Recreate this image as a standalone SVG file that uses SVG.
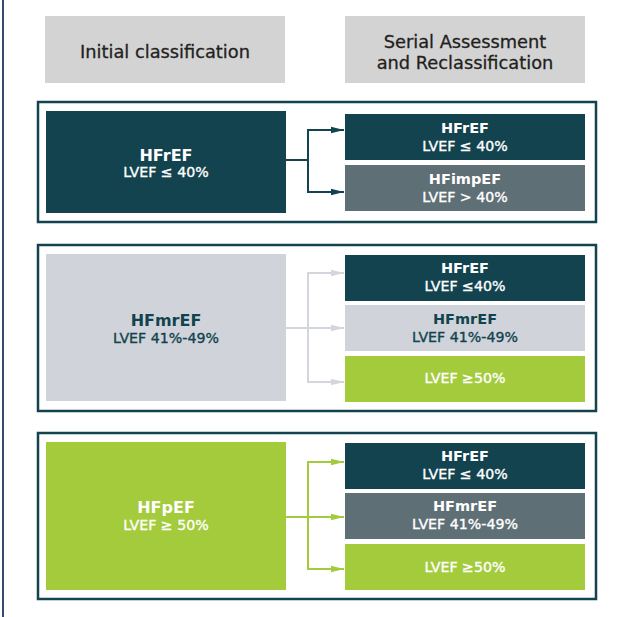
<svg xmlns="http://www.w3.org/2000/svg" width="626" height="617" viewBox="0 0 626 617">
<style>
text{font-family:"DejaVu Sans","Liberation Sans",sans-serif;text-anchor:middle}
.hdr{fill:#d3d3d4}
.hdrt{font-size:17.8px;fill:#231f20;stroke:#231f20;stroke-width:0.3}
.frame{fill:#fff;stroke:#12434f;stroke-width:2.5}
.dark{fill:#12434f}
.slate{fill:#5f6f76}
.light{fill:#d0d3d9}
.green{fill:#a3cb3c}
.b{font-weight:bold;font-size:14.5px}
.r{font-size:14.2px;stroke-width:0.35}
.bb{font-weight:bold;font-size:16px}
.w{fill:#fff;stroke:#fff}
.t{fill:#12434f;stroke:#12434f}
.b.w,.b.t,.bb.w,.bb.t{stroke:none}
.c1{fill:none;stroke:#12434f;stroke-width:2}
.c2{fill:none;stroke:#d3d6dc;stroke-width:2}
.c3{fill:none;stroke:#a3cb3c;stroke-width:2}
</style>
<defs>
<marker id="a1" markerUnits="userSpaceOnUse" markerWidth="13" markerHeight="8" refX="13" refY="4" orient="auto"><path d="M0,0.7 L13,4 L0,7.3 z" fill="#12434f"/></marker>
<marker id="a2" markerUnits="userSpaceOnUse" markerWidth="13" markerHeight="8" refX="13" refY="4" orient="auto"><path d="M0,0.7 L13,4 L0,7.3 z" fill="#d3d6dc"/></marker>
<marker id="a3" markerUnits="userSpaceOnUse" markerWidth="13" markerHeight="8" refX="13" refY="4" orient="auto"><path d="M0,0.7 L13,4 L0,7.3 z" fill="#a3cb3c"/></marker>
</defs>
<line x1="3" y1="0" x2="3" y2="617" stroke="#37496b" stroke-width="2"/>
<g id="header-initial">
<rect class="hdr" x="45" y="16" width="240" height="67"/>
<text class="hdrt" x="165" y="57.5">Initial classification</text>
</g>
<g id="header-serial">
<rect class="hdr" x="345" y="16" width="240" height="67"/>
<text class="hdrt" x="465" y="47.5">Serial Assessment</text>
<text class="hdrt" x="465" y="68.5">and Reclassification</text>
</g>
<g id="frames">
<rect class="frame" x="38" y="102" width="558" height="120"/>
<rect class="frame" x="38" y="245" width="558" height="166"/>
<rect class="frame" x="38" y="433" width="558" height="166"/>
</g>
<g id="connectors">
<path class="c1" d="M286,160 H308"/>
<path class="c1" d="M308,130 V192"/>
<path class="c1" d="M307,130 H344" marker-end="url(#a1)"/>
<path class="c1" d="M307,192 H344" marker-end="url(#a1)"/>
<path class="c2" d="M286,328 H308"/>
<path class="c2" d="M308,273 V382"/>
<path class="c2" d="M307,273 H344" marker-end="url(#a2)"/>
<path class="c2" d="M307,328 H344" marker-end="url(#a2)"/>
<path class="c2" d="M307,382 H344" marker-end="url(#a2)"/>
<path class="c3" d="M286,517 H308"/>
<path class="c3" d="M308,462 V569"/>
<path class="c3" d="M307,462 H344" marker-end="url(#a3)"/>
<path class="c3" d="M307,517 H344" marker-end="url(#a3)"/>
<path class="c3" d="M307,569 H344" marker-end="url(#a3)"/>
</g>
<g id="initial-hfref">
<rect class="dark" x="46" y="111" width="240" height="102"/>
<text class="bb w" x="166" y="161">HFrEF</text>
<text class="r w" x="166" y="177">LVEF ≤ 40%</text>
</g>
<g id="re-hfref-1">
<rect class="dark" x="345" y="114" width="240" height="46"/>
<text class="b w" x="465" y="133">HFrEF</text>
<text class="r w" x="465" y="151">LVEF ≤ 40%</text>
</g>
<g id="re-hfimpef">
<rect class="slate" x="345" y="165" width="240" height="46"/>
<text class="b w" x="465" y="184">HFimpEF</text>
<text class="r w" x="465" y="202">LVEF &gt; 40%</text>
</g>
<g id="initial-hfmref">
<rect class="light" x="46" y="254" width="240" height="147"/>
<text class="bb t" x="166" y="326">HFmrEF</text>
<text class="r t" x="166" y="343">LVEF 41%-49%</text>
</g>
<g id="re-hfref-2">
<rect class="dark" x="345" y="255" width="240" height="46"/>
<text class="b w" x="465" y="273">HFrEF</text>
<text class="r w" x="465" y="291">LVEF ≤40%</text>
</g>
<g id="re-hfmref-2">
<rect class="light" x="345" y="305" width="240" height="46"/>
<text class="b t" x="465" y="324">HFmrEF</text>
<text class="r t" x="465" y="342">LVEF 41%-49%</text>
</g>
<g id="re-pef-2">
<rect class="green" x="345" y="356" width="240" height="46"/>
<text class="r w" x="465" y="383">LVEF ≥50%</text>
</g>
<g id="initial-hfpef">
<rect class="green" x="46" y="442" width="240" height="148"/>
<text class="bb w" x="166" y="513">HFpEF</text>
<text class="r w" x="166" y="530">LVEF ≥ 50%</text>
</g>
<g id="re-hfref-3">
<rect class="dark" x="345" y="443" width="240" height="46"/>
<text class="b w" x="465" y="461">HFrEF</text>
<text class="r w" x="465" y="479">LVEF ≤ 40%</text>
</g>
<g id="re-hfmref-3">
<rect class="slate" x="345" y="493" width="240" height="46"/>
<text class="b w" x="465" y="511">HFmrEF</text>
<text class="r w" x="465" y="529">LVEF 41%-49%</text>
</g>
<g id="re-pef-3">
<rect class="green" x="345" y="544" width="240" height="46"/>
<text class="r w" x="465" y="572">LVEF ≥50%</text>
</g>
</svg>
